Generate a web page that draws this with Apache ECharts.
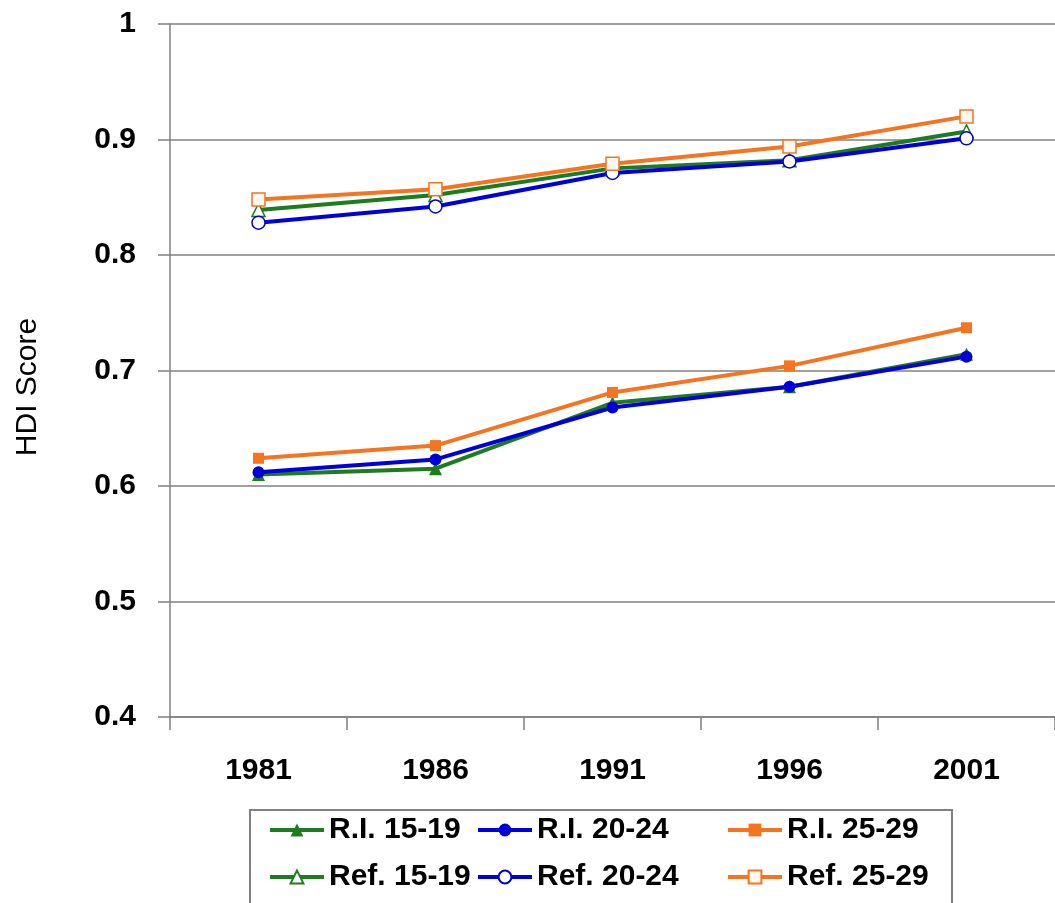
<!DOCTYPE html>
<html>
<head>
<meta charset="utf-8">
<script src="https://cdn.jsdelivr.net/npm/echarts@6/dist/echarts.min.js"></script>
<style>
html,body{margin:0;padding:0;background:#fff;}
#chart{width:1055px;height:903px;}
</style>
</head>
<body>
<div id="chart"></div>
<script>
var years = ['1981', '1986', '1991', '1996', '2001'];
var riAge1519 = [0.610, 0.615, 0.672, 0.686, 0.714];
var riAge2024 = [0.612, 0.623, 0.668, 0.686, 0.712];
var riAge2529 = [0.624, 0.635, 0.681, 0.704, 0.737];
var refAge1519 = [0.839, 0.852, 0.875, 0.882, 0.907];
var refAge2024 = [0.828, 0.842, 0.871, 0.881, 0.901];
var refAge2529 = [0.848, 0.857, 0.879, 0.894, 0.920];
var seriesNames = ['R.I. 15-19', 'R.I. 20-24', 'R.I. 25-29', 'Ref. 15-19', 'Ref. 20-24', 'Ref. 25-29'];
var yTicks = [0.4, 0.5, 0.6, 0.7, 0.8, 0.9, 1];

var GREEN = '#1e7b1e', BLUE = '#0000d8', ORANGE = '#f47420';
var FONT = '"Liberation Sans", Arial, sans-serif';

function mk(name, data, color, symbol, size, hollow, fill) {
  return {
    name: name, type: 'line', data: data,
    symbol: symbol, symbolSize: size,
    lineStyle: {color: color, width: 4},
    itemStyle: hollow ? {color: fill || '#ffffff', borderColor: color, borderWidth: 1.5}
                      : {color: color, borderColor: color, borderWidth: 0},
    emphasis: {disabled: true},
    animation: false
  };
}

var legendCols = [268, 476, 726];
var legendRows = [815, 862];
var legends = [];
for (var i = 0; i < seriesNames.length; i++) {
  legends.push({
    left: legendCols[i % 3], top: legendRows[Math.floor(i / 3)], padding: 0,
    data: [seriesNames[i]], orient: 'horizontal',
    itemWidth: 54, itemHeight: 16, itemGap: 4,
    lineStyle: {width: 4},
    textStyle: {fontFamily: FONT, fontSize: 30, fontWeight: 'bold', color: '#000'},
    selectedMode: false
  });
}

var chart = echarts.init(document.getElementById('chart'), null, {renderer: 'canvas'});
chart.setOption({
  backgroundColor: '#fff',
  grid: {left: 170, right: -3, top: 24, bottom: 186, containLabel: false},
  xAxis: {
    type: 'category', data: years, boundaryGap: true,
    axisLine: {lineStyle: {color: '#808080', width: 1.5}},
    axisTick: {show: true, length: 13, lineStyle: {color: '#808080', width: 1.5}},
    axisLabel: {fontFamily: FONT, fontSize: 30, fontWeight: 'bold', color: '#000', margin: 39},
    splitLine: {show: false}
  },
  yAxis: {
    type: 'value', min: yTicks[0], max: yTicks[yTicks.length - 1], interval: 0.1,
    axisLine: {show: true, lineStyle: {color: '#808080', width: 1.5}},
    axisTick: {show: true, length: 12, lineStyle: {color: '#808080', width: 1.5}},
    axisLabel: {fontFamily: FONT, fontSize: 30, fontWeight: 'bold', color: '#000', margin: 34,
      formatter: function (v) { return String(Math.round(v * 10) / 10); }},
    splitLine: {show: true, lineStyle: {color: '#808080', width: 1.5}}
  },
  graphic: [{
    type: 'rect', z: 1,
    shape: {x: 250, y: 810, width: 702, height: 130},
    style: {fill: '#fff', stroke: '#808080', lineWidth: 2}
  }, {
    type: 'text', z: 5,
    x: 28, y: 387, rotation: Math.PI / 2,
    style: {text: 'HDI Score', fontFamily: FONT, fontSize: 30, fill: '#000',
      align: 'center', verticalAlign: 'middle'}
  }],
  legend: legends,
  series: [
    mk(seriesNames[0], riAge1519, GREEN, 'triangle', 13, false),
    mk(seriesNames[3], refAge1519, GREEN, 'triangle', 13, true),
    mk(seriesNames[1], riAge2024, BLUE, 'circle', 12, false),
    mk(seriesNames[4], refAge2024, BLUE, 'circle', 13, true),
    mk(seriesNames[2], riAge2529, ORANGE, 'rect', 11, false),
    mk(seriesNames[5], refAge2529, ORANGE, 'rect', 13, true, '#fff8ee')
  ]
});
</script>
</body>
</html>
